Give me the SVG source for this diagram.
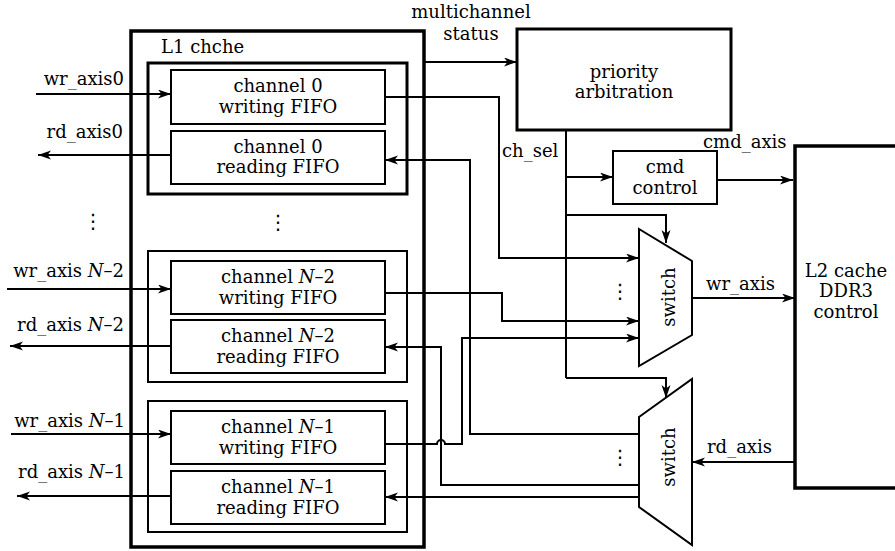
<svg xmlns="http://www.w3.org/2000/svg" width="895" height="551" viewBox="0 0 895 551">
<defs>
<marker id="ah" markerUnits="userSpaceOnUse" markerWidth="14" markerHeight="10" refX="13" refY="4.5" orient="auto">
<path d="M0,0 L13,4.5 L0,9 L3.5,4.5 Z" fill="#000"/>
</marker>
</defs>
<rect width="895" height="551" fill="#fff"/>

<g id="connectors" fill="none" stroke="#000" stroke-width="2">
<path marker-end="url(#ah)" d="M36,94 H171"/>
<path marker-end="url(#ah)" d="M171,155 H38"/>
<path marker-end="url(#ah)" d="M7,289 H171"/>
<path marker-end="url(#ah)" d="M171,346 H10"/>
<path marker-end="url(#ah)" d="M11,434 H171"/>
<path marker-end="url(#ah)" d="M171,496 H17"/>
<path marker-end="url(#ah)" d="M424,62 H517"/>
<path marker-end="url(#ah)" d="M385,97 H499 V258 H639"/>
<path marker-end="url(#ah)" d="M385,293 H502 V321 H639"/>
<path marker-end="url(#ah)" d="M385,444 H437 A4,4 0 0 1 445,444 H462 V338 H639"/>
<path marker-end="url(#ah)" d="M639,434 H470 V160 H385"/>
<path marker-end="url(#ah)" d="M639,485 H441 V347 H385"/>
<path marker-end="url(#ah)" d="M639,497 H385"/>
<path d="M566,130 V378"/>
<path marker-end="url(#ah)" d="M566,177 H613"/>
<path marker-end="url(#ah)" d="M566,215 H666 V243"/>
<path marker-end="url(#ah)" d="M566,378 H666 V398"/>
<path marker-end="url(#ah)" d="M717,180 H793"/>
<path marker-end="url(#ah)" d="M692,298 H795"/>
<path marker-end="url(#ah)" d="M795,462 H692"/>
</g>

<g id="l1cache">
<rect x="131" y="31" width="293" height="516" fill="none" stroke="#000" stroke-width="3.5"/>
<text font-family="DejaVu Serif" font-size="18" x="161" y="53">L1 chche</text>
</g>

<g id="channel0">
<rect x="148" y="63" width="259" height="131" fill="none" stroke="#000" stroke-width="3"/>
</g>
<g id="ch0-write">
<rect x="171" y="70" width="214" height="54" fill="#fff" stroke="#000" stroke-width="2"/>
<text font-family="DejaVu Serif" font-size="18" text-anchor="middle" x="278" y="92">channel 0</text>
<text font-family="DejaVu Serif" font-size="18" text-anchor="middle" x="278" y="113">writing FIFO</text>
</g>
<g id="ch0-read">
<rect x="171" y="131" width="214" height="53" fill="#fff" stroke="#000" stroke-width="2"/>
<text font-family="DejaVu Serif" font-size="18" text-anchor="middle" x="278" y="153">channel 0</text>
<text font-family="DejaVu Serif" font-size="18" text-anchor="middle" x="278" y="173">reading FIFO</text>
</g>

<g id="channelN2">
<rect x="148" y="251" width="259" height="131" fill="none" stroke="#000" stroke-width="2"/>
</g>
<g id="chN2-write">
<rect x="171" y="261" width="214" height="53" fill="#fff" stroke="#000" stroke-width="2"/>
<text font-family="DejaVu Serif" font-size="18" text-anchor="middle" x="278" y="283">channel <tspan font-style="italic">N</tspan>&#8211;2</text>
<text font-family="DejaVu Serif" font-size="18" text-anchor="middle" x="278" y="304">writing FIFO</text>
</g>
<g id="chN2-read">
<rect x="171" y="320" width="214" height="53" fill="#fff" stroke="#000" stroke-width="2"/>
<text font-family="DejaVu Serif" font-size="18" text-anchor="middle" x="278" y="342">channel <tspan font-style="italic">N</tspan>&#8211;2</text>
<text font-family="DejaVu Serif" font-size="18" text-anchor="middle" x="278" y="363">reading FIFO</text>
</g>

<g id="channelN1">
<rect x="148" y="401" width="259" height="131" fill="none" stroke="#000" stroke-width="2"/>
</g>
<g id="chN1-write">
<rect x="171" y="411" width="214" height="53" fill="#fff" stroke="#000" stroke-width="2"/>
<text font-family="DejaVu Serif" font-size="18" text-anchor="middle" x="278" y="433">channel <tspan font-style="italic">N</tspan>&#8211;1</text>
<text font-family="DejaVu Serif" font-size="18" text-anchor="middle" x="278" y="454">writing FIFO</text>
</g>
<g id="chN1-read">
<rect x="171" y="471" width="214" height="53" fill="#fff" stroke="#000" stroke-width="2"/>
<text font-family="DejaVu Serif" font-size="18" text-anchor="middle" x="278" y="493">channel <tspan font-style="italic">N</tspan>&#8211;1</text>
<text font-family="DejaVu Serif" font-size="18" text-anchor="middle" x="278" y="514">reading FIFO</text>
</g>

<g id="labels">
<text font-family="DejaVu Serif" font-size="18" text-anchor="end" x="124" y="85">wr_axis0</text>
<text font-family="DejaVu Serif" font-size="18" text-anchor="end" x="123" y="138">rd_axis0</text>
<text font-family="DejaVu Serif" font-size="18" text-anchor="end" x="124" y="277">wr_axis <tspan font-style="italic">N</tspan>&#8211;2</text>
<text font-family="DejaVu Serif" font-size="18" text-anchor="end" x="124" y="331">rd_axis <tspan font-style="italic">N</tspan>&#8211;2</text>
<text font-family="DejaVu Serif" font-size="18" text-anchor="end" x="125" y="427">wr_axis <tspan font-style="italic">N</tspan>&#8211;1</text>
<text font-family="DejaVu Serif" font-size="18" text-anchor="end" x="125" y="478">rd_axis <tspan font-style="italic">N</tspan>&#8211;1</text>
<text font-family="DejaVu Sans" font-size="20" text-anchor="middle" x="93" y="228">&#8942;</text>
<text font-family="DejaVu Sans" font-size="20" text-anchor="middle" x="278" y="229">&#8942;</text>
<text font-family="DejaVu Serif" font-size="18" text-anchor="middle" x="471" y="18">multichannel</text>
<text font-family="DejaVu Serif" font-size="18" text-anchor="middle" x="471" y="40">status</text>
<text font-family="DejaVu Serif" font-size="18" x="502" y="157">ch_sel</text>
<text font-family="DejaVu Serif" font-size="18" x="703" y="148">cmd_axis</text>
<text font-family="DejaVu Serif" font-size="18" x="706" y="290">wr_axis</text>
<text font-family="DejaVu Serif" font-size="18" x="707" y="453">rd_axis</text>
</g>

<g id="priority">
<rect x="517" y="29" width="214" height="101" fill="#fff" stroke="#000" stroke-width="3"/>
<text font-family="DejaVu Serif" font-size="18" text-anchor="middle" x="624" y="78">priority</text>
<text font-family="DejaVu Serif" font-size="18" text-anchor="middle" x="624" y="98">arbitration</text>
</g>

<g id="cmd">
<rect x="613" y="151" width="104" height="53" fill="#fff" stroke="#000" stroke-width="2"/>
<text font-family="DejaVu Serif" font-size="18" text-anchor="middle" x="665" y="173">cmd</text>
<text font-family="DejaVu Serif" font-size="18" text-anchor="middle" x="665" y="194">control</text>
</g>

<g id="switch-wr">
<path d="M639,229 L692,261 L692,335 L639,366 Z" fill="#fff" stroke="#000" stroke-width="2"/>
<text font-family="DejaVu Serif" font-size="18" text-anchor="middle" transform="translate(675,297) rotate(-90)">switch</text>
<text font-family="DejaVu Sans" font-size="20" text-anchor="middle" x="620" y="298">&#8942;</text>
</g>

<g id="switch-rd">
<path d="M639,417 L692,379 L692,545 L639,507 Z" fill="#fff" stroke="#000" stroke-width="2"/>
<text font-family="DejaVu Serif" font-size="18" text-anchor="middle" transform="translate(675,457) rotate(-90)">switch</text>
<text font-family="DejaVu Sans" font-size="20" text-anchor="middle" x="620" y="464">&#8942;</text>
</g>

<g id="l2cache">
<rect x="795" y="146" width="110" height="342" fill="none" stroke="#000" stroke-width="3.5"/>
<text font-family="DejaVu Serif" font-size="18" text-anchor="middle" x="846" y="277">L2 cache</text>
<text font-family="DejaVu Serif" font-size="18" text-anchor="middle" x="846" y="297">DDR3</text>
<text font-family="DejaVu Serif" font-size="18" text-anchor="middle" x="846" y="318">control</text>
</g>
</svg>
